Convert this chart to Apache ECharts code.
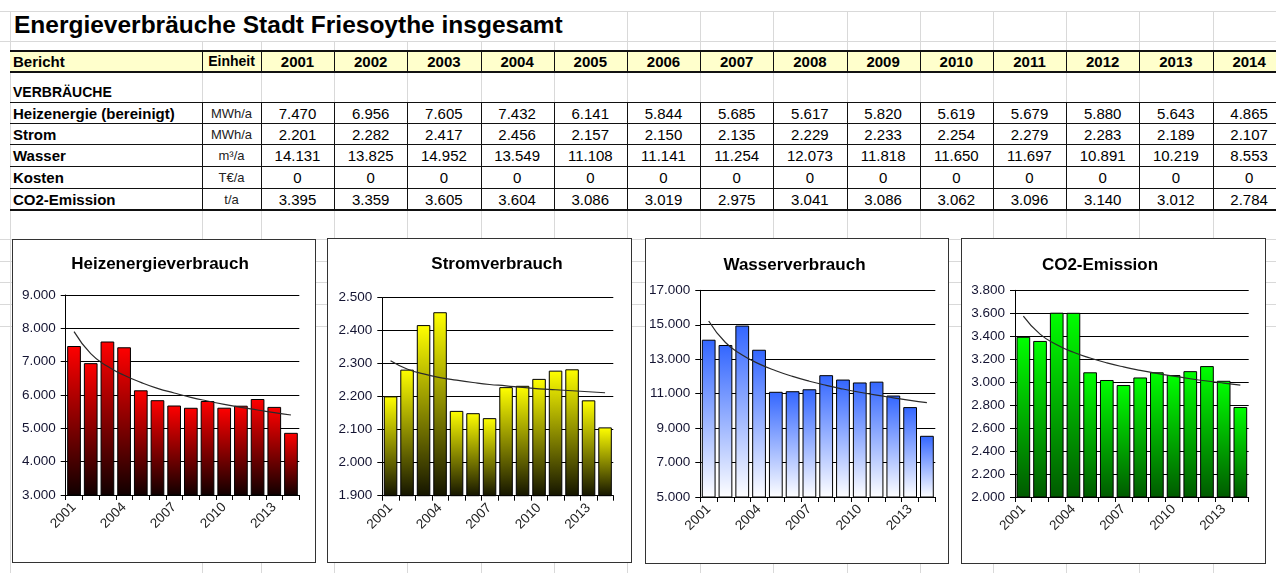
<!DOCTYPE html>
<html>
<head>
<meta charset="utf-8">
<script src="https://cdn.jsdelivr.net/npm/echarts@6/dist/echarts.min.js"></script>
<style>
html, body { margin: 0; padding: 0; background: #fff; }
#page { position: relative; width: 1276px; height: 573px; overflow: hidden; background: #fff;
  font-family: 'Liberation Sans', Arial, sans-serif; color: #000; }
.ln { position: absolute; }
.tx { position: absolute; white-space: nowrap; }
.box { position: absolute; border: 1px solid #333; background: #fff; box-sizing: border-box; }
.box > div { position: absolute; left: 0; top: 0; width: 100%; height: 100%; }
</style>
</head>
<body>
<div id="page"></div>
<script>
// data
const years = ['2001','2002','2003','2004','2005','2006','2007','2008','2009','2010','2011','2012','2013','2014']
const rowLabels = ['Heizenergie (bereinigt)', 'Strom', 'Wasser', 'Kosten', 'CO2-Emission']
const rowUnits = ['MWh/a', 'MWh/a', 'm³/a', 'T€/a', 't/a']
const heizenergie = [7470, 6956, 7605, 7432, 6141, 5844, 5685, 5617, 5820, 5619, 5679, 5880, 5643, 4865]
const strom = [2201, 2282, 2417, 2456, 2157, 2150, 2135, 2229, 2233, 2254, 2279, 2283, 2189, 2107]
const wasser = [14131, 13825, 14952, 13549, 11108, 11141, 11254, 12073, 11818, 11650, 11697, 10891, 10219, 8553]
const kosten = [0, 0, 0, 0, 0, 0, 0, 0, 0, 0, 0, 0, 0, 0]
const co2 = [3395, 3359, 3605, 3604, 3086, 3019, 2975, 3041, 3086, 3062, 3096, 3140, 3012, 2784]

// trend lines
const heizTrend = [7900, 7240, 6860, 6590, 6380, 6200, 6060, 5930, 5820, 5720, 5630, 5550, 5470, 5400]
const stromTrend = [2309, 2284, 2269, 2258, 2250, 2243, 2237, 2233, 2228, 2224, 2221, 2218, 2215, 2212]
const wasserTrend = [15220, 13970, 13250, 12730, 12330, 12000, 11720, 11480, 11270, 11080, 10910, 10760, 10610, 10480]
const co2Trend = [3576, 3418, 3326, 3260, 3210, 3168, 3133, 3103, 3076, 3052, 3030, 3010, 2992, 2975]

const page = document.getElementById('page')
const fmt = n => String(n).replace(/\B(?=(\d{3})+(?!\d))/g, '.')

const line = (x, y, w, h, color) => {
  const d = document.createElement('div')
  d.className = 'ln'
  d.style.cssText = `left:${x}px;top:${y}px;width:${w}px;height:${h}px;background:${color};`
  page.appendChild(d)
}
const text = (str, x, y, w, h, css) => {
  const d = document.createElement('div')
  d.className = 'tx'
  d.textContent = str
  d.style.cssText = `left:${x}px;top:${y}px;width:${w}px;height:${h}px;line-height:${h}px;${css || ''}`
  page.appendChild(d)
}

// sheet grid
const colX = [10, 202, 261]
for (let i = 1; i <= 14; i++) colX.push(261 + 73.2 * i)
const grey = '#d9d9d9'
colX.forEach(x => line(x, x < 620 && x > 10 ? 41 : 11, 1, 573, grey))
;[11, 41, 239, 261, 282, 304, 326].forEach(y => line(0, y, 1276, 1, grey))

// header
line(10, 50, 1266, 22, '#ffffcc')
line(10, 50, 1266, 2, '#111')
line(10, 71, 1266, 2, '#111')
colX.slice(1).forEach(x => line(x, 50, 1, 22, '#111'))

// data rows
const rowY = [102, 123, 144, 166, 188, 209]
rowY.forEach((y, i) => line(10, y, 1266, i === 5 ? 2 : 1, '#111'))
colX.slice(1).forEach(x => line(x, 102, 1, 107, '#111'))

text('Energieverbräuche Stadt Friesoythe insgesamt', 14, 11, 620, 28, 'font-size:24.5px;font-weight:bold;')
text('Bericht', 13, 51, 180, 21, 'font-size:15px;font-weight:bold;')
text('Einheit', 202, 51, 59, 21, 'font-size:14px;font-weight:bold;text-align:center;')
years.forEach((y, i) => text(y, colX[i + 2], 51, 73, 21, 'font-size:15px;font-weight:bold;text-align:center;'))
text('VERBRÄUCHE', 13, 81, 180, 22, 'font-size:14px;font-weight:bold;')

const rows = [heizenergie, strom, wasser, kosten, co2]
rows.forEach((vals, r) => {
  const y = rowY[r] + 1
  const h = rowY[r + 1] - rowY[r]
  text(rowLabels[r], 13, y, 188, h, 'font-size:15px;font-weight:bold;')
  text(rowUnits[r], 202, y, 59, h, 'font-size:13px;color:#222;text-align:center;')
  vals.forEach((v, i) => text(fmt(v), colX[i + 2], y, 73, h, 'font-size:15px;text-align:center;'))
})

// charts
const charts = [
  { title: 'Heizenergieverbrauch', data: heizenergie, trend: heizTrend, min: 3000, max: 9000, step: 1000,
    c1: '#ff0000', c2: '#100000', box: [12, 239, 304, 324], grid: [52.7, 55, 233.6, 200], tx: 147, ty: 24 },
  { title: 'Stromverbrauch', data: strom, trend: stromTrend, min: 1900, max: 2500, step: 100,
    c1: '#ffff00', c2: '#141400', box: [327, 238, 305, 325], grid: [54.3, 58.7, 231, 198], tx: 169, ty: 25 },
  { title: 'Wasserverbrauch', data: wasser, trend: wasserTrend, min: 5000, max: 17000, step: 2000,
    c1: '#3366ff', c2: '#ffffff', box: [645, 238, 304, 326], grid: [53.3, 51.3, 236, 206.7], tx: 148.5, ty: 26 },
  { title: 'CO2-Emission', data: co2, trend: co2Trend, min: 2000, max: 3800, step: 200,
    c1: '#00ff00', c2: '#005a00', box: [961, 238, 305, 326], grid: [53, 51.3, 233.7, 206.7], tx: 138, ty: 26 }
]

const font = "'Liberation Sans', Arial, sans-serif"

charts.forEach(c => {
  const box = document.createElement('div')
  box.className = 'box'
  box.style.cssText = `left:${c.box[0]}px;top:${c.box[1]}px;width:${c.box[2]}px;height:${c.box[3]}px;`
  const el = document.createElement('div')
  box.appendChild(el)
  page.appendChild(box)

  const myChart = echarts.init(el, null, { renderer: 'canvas' })
  myChart.setOption({
    animation: false,
    graphic: [{
      type: 'text',
      x: c.tx,
      y: c.ty,
      style: { text: c.title, font: `bold 17px ${font}`, fill: '#000', align: 'center', verticalAlign: 'middle' }
    }],
    grid: { left: c.grid[0], top: c.grid[1], width: c.grid[2], height: c.grid[3] },
    xAxis: {
      type: 'category',
      data: years,
      boundaryGap: true,
      axisLine: { lineStyle: { color: '#000', width: 1 } },
      axisTick: { show: true, interval: 0, length: 5, lineStyle: { color: '#000' } },
      axisLabel: { interval: 2, rotate: 45, fontSize: 13.5, fontFamily: font, color: '#222', margin: 10 }
    },
    yAxis: {
      type: 'value',
      min: c.min,
      max: c.max,
      interval: c.step,
      axisLine: { show: true, lineStyle: { color: '#000', width: 1 } },
      axisTick: { show: true, length: 5, lineStyle: { color: '#000' } },
      splitLine: { lineStyle: { color: '#000', width: 1 } },
      axisLabel: { fontSize: 13.5, fontFamily: font, color: '#141432', margin: 10, formatter: v => fmt(v) }
    },
    series: [
      {
        type: 'bar',
        data: c.data,
        barCategoryGap: '18%',
        itemStyle: {
          borderColor: '#000',
          borderWidth: 1,
          color: new echarts.graphic.LinearGradient(0, 0, 0, 1, [
            { offset: 0, color: c.c1 },
            { offset: 1, color: c.c2 }
          ])
        }
      },
      {
        type: 'line',
        data: c.trend,
        smooth: true,
        symbol: 'none',
        z: 5,
        lineStyle: { color: '#2a2a2a', width: 1.2 }
      }
    ]
  })
})
</script>
</body>
</html>
